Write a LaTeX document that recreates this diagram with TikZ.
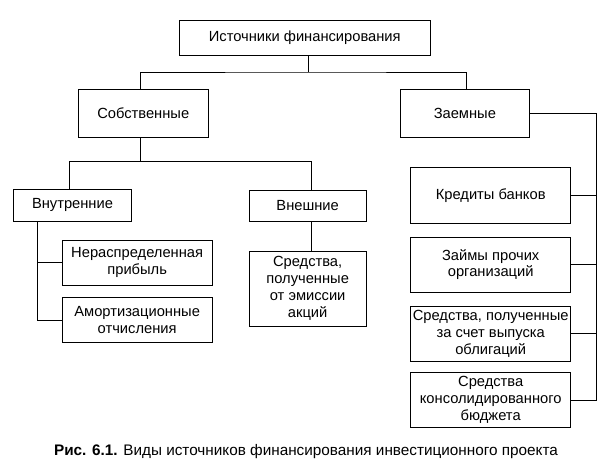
\documentclass[tikz,border=0pt]{standalone}
\usepackage{fontspec}
\setmainfont{Liberation Sans}
\begin{document}
\begin{tikzpicture}[x=1pt,y=-1pt,
  box/.style={draw, line width=0.9pt, inner sep=1pt, align=center,
    font={\fontsize{14.7}{16.8}\selectfont}},
  conn/.style={line width=0.9pt}]
\useasboundingbox (0,0) rectangle (607,464);
\node[box, minimum width=250.5pt, minimum height=35pt] (top) at (304.75,37.5) {Источники финансирования};
\node[box, minimum width=129.5pt, minimum height=47.5pt] (sob) at (143.25,113.25) {Собственные};
\node[box, minimum width=128.3pt, minimum height=48pt] (zaem) at (464.85,113.3) {Заемные};
\node[box, minimum width=118.4pt, minimum height=31.7pt] (vnutr) at (72.5,205.15) {Внутренние};
\node[box, minimum width=149.7pt, minimum height=45pt] (nerasp) at (137.15,262.5) {Нераспределенная\\прибыль};
\node[box, minimum width=149.7pt, minimum height=45.4pt] (amort) at (137.15,320) {Амортизационные\\отчисления};
\node[box, minimum width=116.7pt, minimum height=31pt] (vnesh) at (307.65,205.5) {Внешние};
\node[box, minimum width=116.7pt, minimum height=75pt] (emis) at (307.65,288.5) {Средства,\\полученные\\от эмиссии\\акций};
\node[box, minimum width=160pt, minimum height=56pt] (kred) at (490.7,195.3) {Кредиты банков};
\node[box, minimum width=160pt, minimum height=54.7pt] (zaim) at (490.7,264.65) {Займы прочих\\организаций};
\node[box, minimum width=160pt, minimum height=55.7pt] (oblig) at (490.7,333.85) {Средства, полученные\\за счет выпуска\\облигаций};
\node[box, minimum width=160pt, minimum height=54.6pt] (budg) at (490.7,400) {Средства\\консолидированного\\бюджета};
\node[font={\fontsize{15.3}{18}\selectfont}] (cap) at (306,452) {\textbf{Рис. 6.1.} Виды источников финансирования инвестиционного проекта};
% connectors
\coordinate (j1) at (308,72);
\coordinate (j2) at (140,161.7);
\coordinate (v1) at (37.7,0);
\coordinate (r) at (596,0);
\draw[conn] (top.south -| j1) -- (j1);
\draw[conn] ([xshift=-2.75pt]sob.north) |- (j1) -| ([xshift=1.2pt]zaem.north);
\draw[conn] (sob.south -| j2) -- (j2);
\draw[conn] ([xshift=-3.2pt]vnutr.north) |- (j2) -| ([xshift=3.35pt]vnesh.north);
\draw[conn] ([xshift=3.35pt]vnesh.south) -- ([xshift=3.35pt]emis.north);
\draw[conn] (vnutr.south -| v1) |- (amort.west);
\draw[conn] (nerasp.west) -- (nerasp.west -| v1);
\draw[conn] (zaem.east) -| (r |- budg.east) -- (budg.east);
\draw[conn] (kred.east) -- (kred.east -| r);
\draw[conn] (zaim.east) -- (zaim.east -| r);
\draw[conn] (oblig.east) -- (oblig.east -| r);
\end{tikzpicture}
\end{document}
